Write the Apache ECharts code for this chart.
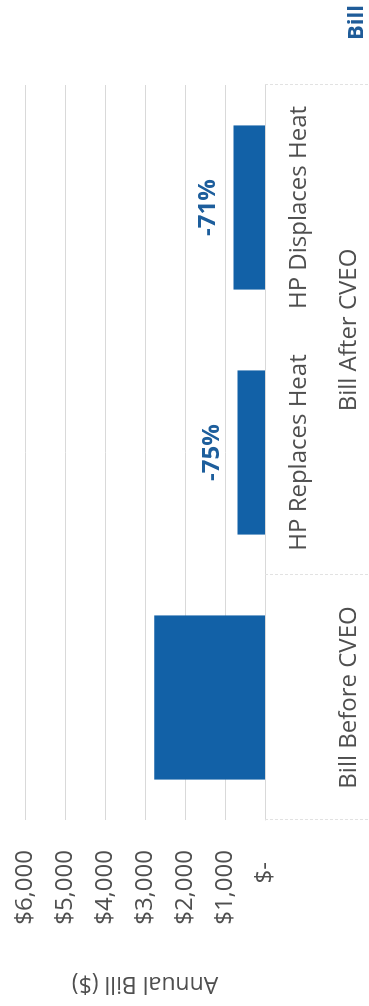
<!DOCTYPE html>
<html>
<head>
<meta charset="utf-8">
<script src="https://cdn.jsdelivr.net/npm/echarts@6/dist/echarts.min.js"></script>
<style>
  html, body { margin: 0; padding: 0; background: #ffffff; overflow: hidden; }
  body { width: 369px; height: 1006px; position: relative; }
  /* The chart is laid out landscape and turned a quarter-turn counter-clockwise */
  #chart {
    position: absolute; left: 0; top: 0;
    width: 1006px; height: 369px;
    transform-origin: 0 0;
    transform: translate(0, 1006px) rotate(-90deg);
  }
</style>
</head>
<body>
<div id="chart"></div>
<script>
// Annual bill per scenario
const categories = ['Bill Before CVEO', 'HP Replaces Heat', 'HP Displaces Heat'];
const subLabels = ['', 'HP Replaces Heat', 'HP Displaces Heat'];
const groupLabels = ['Bill Before CVEO', 'Bill After CVEO'];
const groupSpans = [1, 2];
const annualBill = [2770, 690, 790];
const legendText = 'Bill';

const FONT = '"Open Sans", "Noto Sans", sans-serif';
const BLUE = '#1261a7';
const GREY_TEXT = '#4f4f4f';

// group label centres and boundaries on a 0..N band scale
const groupCentres = [];
const groupEdges = [0];
let acc = 0;
groupSpans.forEach(function (s) {
  groupCentres.push(acc + s / 2);
  acc += s;
  groupEdges.push(acc);
});

function money(v) {
  if (v === 0) return '{z|$-}';
  return '$' + v.toLocaleString('en-US');
}

const chart = echarts.init(document.getElementById('chart'), null, { renderer: 'canvas' });

chart.setOption({
  animation: false,
  backgroundColor: '#ffffff',
  title: {
    text: legendText,
    left: 961,
    top: 341,
    textStyle: { fontFamily: FONT, fontSize: 22, fontWeight: 'bold', color: '#1f5c99' }
  },
  grid: { left: 186, right: 85, top: 25, bottom: 104, containLabel: false },
  xAxis: [
    {
      type: 'category',
      data: categories,
      boundaryGap: true,
      axisLine: { show: true, lineStyle: { color: '#d9d9d9', width: 1 } },
      axisTick: { show: false },
      axisLabel: {
        interval: 0,
        margin: 22,
        fontFamily: FONT,
        fontSize: 24,
        color: GREY_TEXT,
        formatter: function (v, i) { return subLabels[i]; }
      }
    },
    {
      type: 'value',
      position: 'bottom',
      min: 0,
      max: categories.length,
      axisLine: { show: false },
      splitLine: { show: false },
      axisTick: {
        show: true,
        inside: false,
        length: 104,
        customValues: groupEdges,
        lineStyle: { color: '#e2e2e2', width: 1, type: [3, 2] }
      },
      axisLabel: {
        margin: 72,
        fontFamily: FONT,
        fontSize: 24,
        color: GREY_TEXT,
        customValues: groupCentres,
        formatter: function (v) {
          const i = groupCentres.indexOf(v);
          return i >= 0 ? groupLabels[i] : '';
        }
      }
    }
  ],
  yAxis: {
    type: 'value',
    min: 0,
    max: 6000,
    interval: 1000,
    name: 'Annual Bill ($)',
    nameLocation: 'middle',
    nameGap: 152,
    nameTextStyle: { fontFamily: FONT, fontSize: 23, color: GREY_TEXT },
    axisLine: { show: false },
    axisTick: { show: false },
    splitLine: { lineStyle: { color: '#d9d9d9', width: 1 } },
    axisLabel: {
      margin: 30,
      fontFamily: FONT,
      fontSize: 24,
      color: GREY_TEXT,
      formatter: money,
      rich: { z: { fontFamily: FONT, fontSize: 24, color: GREY_TEXT, padding: [0, 12, 0, 0] } }
    }
  },
  series: [
    {
      name: 'Annual Bill',
      type: 'bar',
      xAxisIndex: 0,
      data: annualBill,
      barWidth: '67%',
      itemStyle: { color: BLUE },
      label: {
        show: true,
        position: 'top',
        distance: 13,
        fontFamily: FONT,
        fontSize: 24,
        fontWeight: 'bold',
        color: '#1d5e9c',
        formatter: function (p) {
          if (p.dataIndex === 0) return '';
          const pct = Math.round((p.value / annualBill[0] - 1) * 100);
          return pct + '%';
        }
      }
    }
  ]
});
</script>
</body>
</html>
